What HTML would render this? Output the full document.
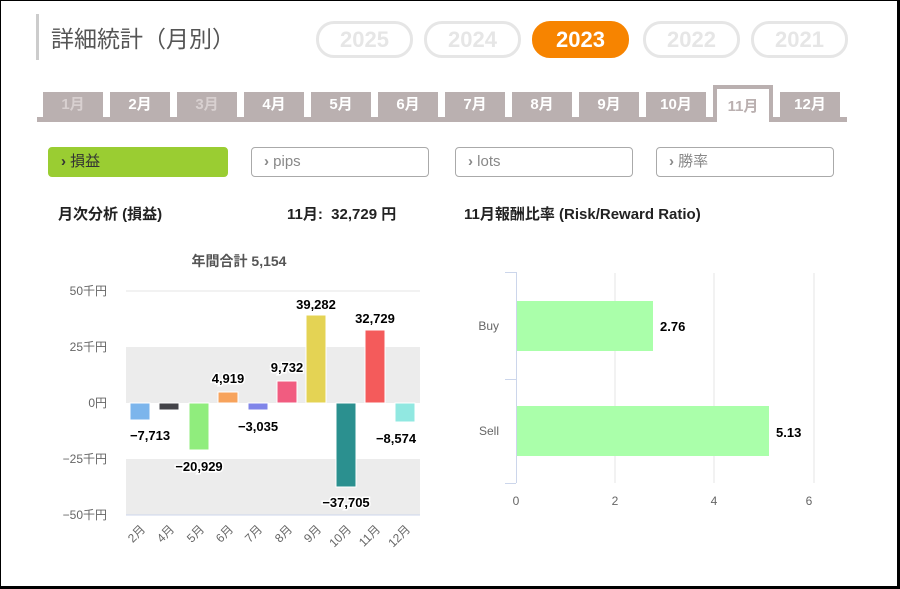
<!DOCTYPE html>
<html><head><meta charset="utf-8"><style>
body{margin:0;width:900px;height:589px;overflow:hidden;background:#fff;font-family:"Liberation Sans","Noto Sans CJK JP",sans-serif;}
.frame{position:absolute;left:0;top:0;width:896px;height:585px;border:1px solid #000;border-right:3px solid #000;border-bottom:3px solid #000;}
.abs{position:absolute}
.pill{position:absolute;top:21px;height:31px;width:91px;border:3px solid #e6e6e6;border-radius:18px;color:#e6e6e6;font-weight:bold;font-size:22px;text-align:center;line-height:31px}
.tab{position:absolute;top:92px;height:26px;width:60px;background:#bab0b0;color:#fff;font-weight:bold;font-size:15px;text-align:center;line-height:26px}
.btn{position:absolute;top:147px;height:28px;border:1px solid #aaa;border-radius:4px;color:#888;font-size:15px;line-height:28px;padding-left:12px;box-sizing:content-box}
</style></head><body>
<div class="frame"></div>
<div class="abs" style="left:36px;top:14px;width:3px;height:46px;background:#ccc"></div>
<div class="abs" style="left:51px;top:20px;font-size:23px;color:#555">詳細統計（月別）</div>
<div class="pill" style="left:316px">2025</div>
<div class="pill" style="left:424px">2024</div>
<div class="pill" style="left:532px;background:#f78400;border-color:#f78400;color:#fff">2023</div>
<div class="pill" style="left:643px">2022</div>
<div class="pill" style="left:751px">2021</div>
<div class="abs" style="left:37px;top:117px;width:810px;height:5px;background:#bab0b0"></div>
<div class="tab" style="left:43px;color:#d8d0d0">1月</div>
<div class="tab" style="left:110px">2月</div>
<div class="tab" style="left:177px;color:#d8d0d0">3月</div>
<div class="tab" style="left:244px">4月</div>
<div class="tab" style="left:311px">5月</div>
<div class="tab" style="left:378px">6月</div>
<div class="tab" style="left:445px">7月</div>
<div class="tab" style="left:512px">8月</div>
<div class="tab" style="left:579px">9月</div>
<div class="tab" style="left:646px">10月</div>
<div class="tab" style="left:713px;top:85px;height:33px;width:52px;background:#fff;border:4px solid #bab0b0;border-bottom:none;color:#bab0b0;line-height:36px">11月</div>
<div class="tab" style="left:780px">12月</div>
<div class="btn" style="left:48px;width:166px;background:#9acd32;border-color:#9acd32;color:#333"><b>›</b> 損益</div>
<div class="btn" style="left:251px;width:164px"><b>›</b> pips</div>
<div class="btn" style="left:455px;width:164px"><b>›</b> lots</div>
<div class="btn" style="left:656px;width:164px"><b>›</b> 勝率</div>
<div class="abs" style="left:58px;top:203px;font-size:15px;font-weight:bold;color:#222">月次分析 (損益)</div>
<div class="abs" style="left:287px;top:203px;font-size:15px;font-weight:bold;color:#222">11月:&nbsp; 32,729 円</div>
<div class="abs" style="left:464px;top:203px;font-size:15px;font-weight:bold;color:#222">11月報酬比率 (Risk/Reward Ratio)</div>
<svg class="abs" style="left:0;top:0" width="900" height="589" font-family="Liberation Sans,Noto Sans CJK JP,sans-serif">
<text x="239" y="266" font-size="14" font-weight="bold" fill="#555" text-anchor="middle">年間合計 5,154</text>
<rect x="126" y="347" width="294" height="56" fill="#ececec"/>
<rect x="126" y="459" width="294" height="56" fill="#ececec"/>
<line x1="126" x2="420" y1="291" y2="291" stroke="#e6e6e6"/>
<line x1="126" x2="420" y1="515" y2="515" stroke="#ccd6eb"/>
<g font-size="12" fill="#666" text-anchor="end">
<text x="107" y="295">50千円</text><text x="107" y="351">25千円</text><text x="107" y="407">0円</text><text x="107" y="463">−25千円</text><text x="107" y="519">−50千円</text></g>
<g stroke="#fff" stroke-width="1">
<rect x="130" y="403" width="20" height="17" fill="#7cb5ec"/>
<rect x="159" y="403" width="20" height="7" fill="#434348"/>
<rect x="189" y="403" width="20" height="47" fill="#90ed7d"/>
<rect x="218" y="392" width="20" height="11" fill="#f7a35c"/>
<rect x="248" y="403" width="20" height="7" fill="#8085e9"/>
<rect x="277" y="381" width="20" height="22" fill="#f15c80"/>
<rect x="306" y="315" width="20" height="88" fill="#e4d354"/>
<rect x="336" y="403" width="20" height="84" fill="#2b908f"/>
<rect x="365" y="330" width="20" height="73" fill="#f45b5b"/>
<rect x="395" y="403" width="20" height="19" fill="#91e8e1"/>
</g>
<g font-size="13" font-weight="bold" fill="#000" text-anchor="middle" stroke="#fff" stroke-width="3" paint-order="stroke">
<text x="150" y="440">−7,713</text>
<text x="199" y="471">−20,929</text>
<text x="228" y="383">4,919</text>
<text x="258" y="431">−3,035</text>
<text x="287" y="372">9,732</text>
<text x="316" y="309">39,282</text>
<text x="346" y="507">−37,705</text>
<text x="375" y="323">32,729</text>
<text x="396" y="443">−8,574</text>
</g>
<g font-size="12" fill="#666" text-anchor="end">
<text transform="translate(146,530) rotate(-45)">2月</text>
<text transform="translate(175,530) rotate(-45)">4月</text>
<text transform="translate(205,530) rotate(-45)">5月</text>
<text transform="translate(234,530) rotate(-45)">6月</text>
<text transform="translate(263,530) rotate(-45)">7月</text>
<text transform="translate(293,530) rotate(-45)">8月</text>
<text transform="translate(322,530) rotate(-45)">9月</text>
<text transform="translate(352,530) rotate(-45)">10月</text>
<text transform="translate(381,530) rotate(-45)">11月</text>
<text transform="translate(411,530) rotate(-45)">12月</text>
</g>
<g stroke="#e6e6e6"><line x1="615" x2="615" y1="273" y2="483"/><line x1="714" x2="714" y1="273" y2="483"/><line x1="814" x2="814" y1="273" y2="483"/></g>
<g stroke="#ccd6eb"><line x1="516.5" x2="516.5" y1="272" y2="483"/><line x1="505" x2="516" y1="272.5" y2="272.5"/><line x1="505" x2="516" y1="379.5" y2="379.5"/><line x1="505" x2="516" y1="483.5" y2="483.5"/></g>
<rect x="517" y="301" width="136" height="50" fill="#aaffaa"/>
<rect x="517" y="406" width="252" height="50" fill="#aaffaa"/>
<g font-size="12" fill="#666"><text x="499" y="330" text-anchor="end">Buy</text><text x="499" y="435" text-anchor="end">Sell</text>
<text x="516" y="505" text-anchor="middle">0</text><text x="615" y="505" text-anchor="middle">2</text><text x="714" y="505" text-anchor="middle">4</text><text x="809" y="505" text-anchor="middle">6</text></g>
<g font-size="13" font-weight="bold" fill="#000"><text x="660" y="331">2.76</text><text x="776" y="437">5.13</text></g>
</svg>
</body></html>
